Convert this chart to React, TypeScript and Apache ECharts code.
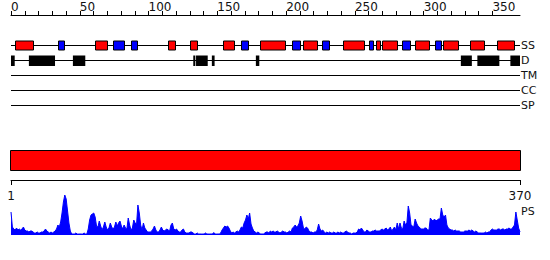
import React, { useEffect, useRef } from "react";
import * as echarts from "echarts";

const seqLength = 370;
const rulerTicks = [0, 10, 20, 30, 40, 50, 60, 70, 80, 90, 100, 110, 120, 130, 140, 150, 160, 170, 180, 190, 200, 210, 220, 230, 240, 250, 260, 270, 280, 290, 300, 310, 320, 330, 340, 350];
const rulerLabels = [0, 50, 100, 150, 200, 250, 300, 350];
const trackNames = ["SS", "D", "TM", "CC", "SP"];

// secondary structure: [start, end, type] H = helix (red), E = strand (blue)
const ssElements: [number, number, string][] = [
  [3, 16, "H"], [34, 38, "E"], [61, 70, "H"], [74, 82, "E"], [87, 91, "E"],
  [114, 119, "H"], [130, 135, "H"], [154, 162, "H"], [167, 172, "E"], [181, 199, "H"],
  [204, 210, "E"], [212, 222, "H"], [226, 231, "E"], [241, 256, "H"], [260, 263, "E"],
  [265, 268, "H"], [270, 281, "H"], [284, 290, "E"], [294, 304, "H"], [308, 312, "E"],
  [314, 325, "H"], [334, 344, "H"], [353, 365, "H"],
];

// disorder segments: [start, end]
const disorder: [number, number][] = [
  [0, 2.7], [13, 32], [45, 54], [132.5, 134], [134.5, 143], [146, 148],
  [178, 180.5], [327, 335], [339, 355], [363, 370],
];

const domains: [number, number][] = [[1, 370]];
const bottomTicks = [1, 370];

const psValues = [
  23, 8, 6, 5, 7, 5, 6, 5, 6, 8,
  5, 4, 4, 3, 4, 4, 3, 2, 2, 3,
  2, 2, 3, 3, 4, 6, 4, 3, 2, 3,
  2, 3, 4, 6, 10, 8, 13, 22, 33, 40,
  36, 24, 12, 4, 1, 1, 1, 2, 1, 1,
  1, 1, 1, 2, 1, 1, 6, 15, 20, 21,
  22, 18, 9, 8, 14, 9, 5, 8, 13, 8,
  5, 7, 12, 8, 6, 8, 13, 9, 12, 14,
  9, 6, 10, 7, 6, 17, 10, 5, 7, 15,
  12, 10, 30, 22, 10, 5, 12, 7, 5, 3,
  3, 3, 4, 6, 9, 5, 3, 3, 5, 8,
  5, 4, 5, 6, 5, 4, 10, 12, 6, 5,
  6, 4, 3, 3, 5, 6, 3, 2, 2, 2,
  3, 3, 2, 1, 1, 2, 1, 1, 1, 1,
  1, 2, 1, 1, 1, 1, 1, 2.5, 1, 1,
  1, 1, 2, 5, 7, 9, 8, 9, 7, 4,
  2, 3, 2, 3, 4, 3, 5, 8, 7, 12,
  15, 20, 16, 22, 11, 7, 4, 3, 2, 3,
  2, 1, 1, 1, 2, 3, 3, 2, 4, 3,
  4, 3, 3, 4, 3, 2, 3, 4, 3, 3,
  2, 3, 4, 3, 7, 8, 10, 8, 9, 12,
  19, 14, 7, 6, 8, 7, 4, 3, 3, 2,
  3, 3, 5, 11, 6, 4, 5, 3, 2, 3,
  2, 3, 2, 2, 3, 2, 2, 3, 2, 3,
  2, 2, 3, 4, 3, 2, 2, 1, 2, 2,
  2, 3, 6, 5, 7, 5, 3, 3, 5, 4,
  3, 3, 4, 4, 5, 4, 4, 4, 5, 6,
  5, 6, 7, 5, 6, 8, 4, 6, 8, 5,
  12, 6, 12, 7, 6, 14, 10, 12, 29, 22,
  10, 9, 8, 16, 12, 9, 8, 6, 6, 6,
  7, 7, 5, 5, 17, 15, 14, 16, 14, 15,
  16, 16, 27, 20, 18, 20, 10, 7, 6, 5,
  5, 4, 5, 4, 4, 4, 3, 3, 3, 4,
  4, 4, 5, 4, 5, 4, 3, 4, 3, 2,
  2, 2, 2, 2, 3, 2, 3, 3, 5, 6,
  5, 5, 5, 6, 6, 5, 6, 6, 5, 6,
  6, 7, 6, 6, 8, 10, 23, 15, 7, 3,
];

const FONT = "DejaVu Sans";

export default function App() {
  const ref = useRef<HTMLDivElement>(null);
  useEffect(() => {
    if (!ref.current) return;
    const chart = echarts.init(ref.current, null, { renderer: "svg" });
    const trackRow = (i: number) => i + 2;

    const option: any = {
      animation: false,
      backgroundColor: "#ffffff",
      grid: [
        { left: 11, top: 15, width: 509, height: 90 },
        { left: 11, top: 150, width: 509, height: 30 },
        { left: 11, top: 195, width: 509, height: 40 },
      ],
      xAxis: [
        {
          gridIndex: 0,
          type: "value",
          position: "top",
          min: 0,
          max: seqLength,
          interval: 10,
          axisLine: { show: true, onZero: false, lineStyle: { color: "#000", width: 1 } },
          axisTick: { show: true, length: 4, customValues: rulerTicks, lineStyle: { color: "#000" } },
          axisLabel: {
            show: true,
            customValues: rulerLabels,
            align: "left",
            margin: 2,
            color: "#111",
            fontFamily: FONT,
            fontSize: 12,
          },
          splitLine: { show: false },
        },
        {
          gridIndex: 1,
          type: "value",
          position: "bottom",
          min: 1,
          max: seqLength,
          axisLine: { show: true, onZero: false, lineStyle: { color: "#000", width: 1 } },
          axisTick: { show: true, length: 5, customValues: bottomTicks, lineStyle: { color: "#000" } },
          axisLabel: {
            show: true,
            customValues: bottomTicks,
            margin: 10,
            color: "#111",
            fontFamily: FONT,
            fontSize: 12,
          },
          splitLine: { show: false },
        },
        {
          gridIndex: 2,
          type: "value",
          min: 1,
          max: seqLength,
          show: false,
        },
      ],
      yAxis: [
        { gridIndex: 0, type: "value", min: 0, max: 6, inverse: true, show: false },
        { gridIndex: 1, type: "value", min: 0, max: 30, inverse: true, show: false },
        { gridIndex: 2, type: "value", min: 0, max: 40, show: false },
      ],
      series: [
        {
          type: "custom",
          xAxisIndex: 0,
          yAxisIndex: 0,
          data: trackNames.map((n, i) => [0, seqLength, i]),
          renderItem: (params: any, api: any) => {
            const idx = api.value(2);
            const p0 = api.coord([api.value(0), trackRow(idx)]);
            const p1 = api.coord([api.value(1), trackRow(idx)]);
            const y = Math.round(p0[1]) + 0.5;
            return {
              type: "group",
              children: [
                { type: "line", shape: { x1: p0[0], y1: y, x2: p1[0], y2: y }, style: { stroke: "#000", lineWidth: 1 } },
                {
                  type: "text",
                  x: p1[0] + 1,
                  y: y,
                  style: { text: trackNames[idx], fill: "#111", font: `11px '${FONT}'`, textVerticalAlign: "middle", textAlign: "left" },
                },
              ],
            };
          },
          z: 1,
        },
        {
          type: "custom",
          xAxisIndex: 0,
          yAxisIndex: 0,
          data: ssElements,
          encode: { x: [0, 1] },
          renderItem: (params: any, api: any) => {
            const d = ssElements[params.dataIndex];
            const p0 = api.coord([d[0], trackRow(0)]);
            const p1 = api.coord([d[1], trackRow(0)]);
            const cy = Math.round(p0[1]) + 0.5;
            return {
              type: "rect",
              shape: { x: Math.round(p0[0]) + 0.5, y: cy - 4.5, width: Math.round(p1[0] - p0[0]), height: 9 },
              style: { fill: d[2] === "H" ? "#ff0000" : "#0000ff", stroke: "#000", lineWidth: 1 },
            };
          },
          z: 2,
        },
        {
          type: "custom",
          xAxisIndex: 0,
          yAxisIndex: 0,
          data: disorder,
          encode: { x: [0, 1] },
          renderItem: (params: any, api: any) => {
            const d = disorder[params.dataIndex];
            const p0 = api.coord([d[0], trackRow(1)]);
            const p1 = api.coord([d[1], trackRow(1)]);
            const cy = Math.round(p0[1]) + 0.5;
            return {
              type: "rect",
              shape: { x: p0[0], y: cy - 5, width: Math.max(1.5, p1[0] - p0[0]), height: 10.5 },
              style: { fill: "#000" },
            };
          },
          z: 2,
        },
        {
          type: "custom",
          xAxisIndex: 1,
          yAxisIndex: 1,
          data: domains,
          encode: { x: [0, 1] },
          renderItem: (params: any, api: any) => {
            const d = domains[params.dataIndex];
            const p0 = api.coord([d[0] - 0.5, 0]);
            const p1 = api.coord([d[1] + 0.5, 0]);
            return {
              type: "rect",
              shape: { x: Math.round(p0[0]) + 0.5, y: p0[1] + 0.5, width: Math.round(p1[0] - p0[0]), height: 20 },
              style: { fill: "#ff0000", stroke: "#000", lineWidth: 1 },
            };
          },
        },
        {
          type: "line",
          xAxisIndex: 2,
          yAxisIndex: 2,
          data: psValues.map((v, i) => [i + 1, v]),
          symbol: "none",
          lineStyle: { color: "#0000ff", width: 1 },
          areaStyle: { color: "#0000ff", opacity: 1 },
          silent: true,
        },
      ],
      graphic: [
        {
          type: "text",
          left: 521,
          top: 206,
          style: { text: "PS", fill: "#111", font: `11px '${FONT}'` },
        },
      ],
    };
    chart.setOption(option);
    return () => chart.dispose();
  }, []);
  return <div ref={ref} style={{ position: "fixed", left: 0, top: 0, width: 550, height: 260 }} />;
}
